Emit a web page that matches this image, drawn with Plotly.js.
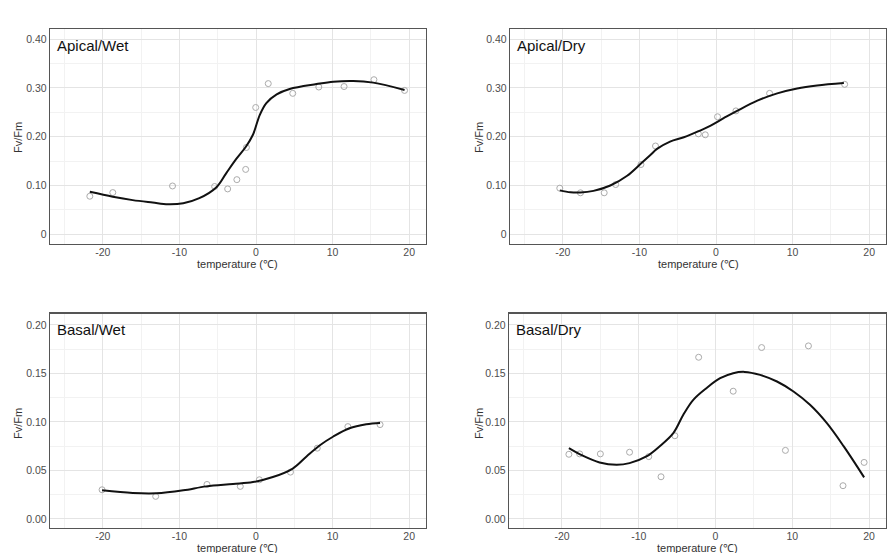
<!DOCTYPE html>
<html>
<head>
<meta charset="utf-8">
<script src="https://cdn.plot.ly/plotly-3.0.1.min.js"></script>
<style>html,body{margin:0;padding:0;background:#fff;}#chart{width:888px;height:553px;}</style>
</head>
<body>
<div id="chart"></div>
<script>
// ---- Data ----
const panelLabels = ["Apical/Wet", "Apical/Dry", "Basal/Wet", "Basal/Dry"];

// Apical/Wet observations
const awX = [-21.7, -18.7, -10.9, -5.4, -3.7, -2.5, -1.35, -1.25, -0.04, 1.6, 4.8, 8.2, 11.5, 15.4, 19.4];
const awY = [0.078, 0.0855, 0.099, 0.098, 0.093, 0.112, 0.133, 0.178, 0.260, 0.309, 0.289, 0.302, 0.303, 0.317, 0.295];
// Apical/Wet smooth curve
const awFitX = [-21.7, -18.7, -16.1, -13.5, -11.5, -9.5, -7.4, -5.2, -3.9, -2.6, -1.3, -0.4, 0.5, 1.35, 2.7, 4.4, 7.9, 10.1, 12.7, 15.3, 19.4];
const awFitY = [0.087, 0.077, 0.070, 0.065, 0.0615, 0.0636, 0.074, 0.096, 0.125, 0.154, 0.180, 0.204, 0.245, 0.269, 0.287, 0.298, 0.308, 0.313, 0.3145, 0.311, 0.296];

// Apical/Dry observations
const adX = [-20.4, -17.7, -14.6, -13.1, -9.8, -7.9, -2.3, -1.4, 0.2, 2.6, 7.0, 16.8];
const adY = [0.0945, 0.085, 0.085, 0.102, 0.143, 0.181, 0.206, 0.204, 0.241, 0.253, 0.289, 0.3075];
const adFitX = [-20.4, -19.0, -17.7, -16.0, -13.8, -11.6, -9.8, -8.6, -7.7, -6.0, -4.2, -2.5, -0.7, 1.0, 2.75, 5.4, 8.0, 10.6, 13.2, 16.7];
const adFitY = [0.090, 0.086, 0.0856, 0.089, 0.100, 0.120, 0.145, 0.162, 0.175, 0.190, 0.199, 0.210, 0.223, 0.238, 0.253, 0.274, 0.289, 0.299, 0.305, 0.310];

// Basal/Wet observations
const bwX = [-20.1, -13.1, -6.4, -2.05, 0.44, 4.5, 8.0, 12.0, 16.2];
const bwY = [0.0301, 0.0233, 0.0356, 0.0336, 0.0404, 0.0483, 0.073, 0.0952, 0.0973];
const bwFitX = [-20.1, -16.1, -13.0, -9.5, -6.5, -3.0, -0.4, 2.2, 4.8, 6.6, 8.3, 10.1, 12.2, 14.4, 16.2];
const bwFitY = [0.0295, 0.0267, 0.0264, 0.0295, 0.0336, 0.036, 0.038, 0.0432, 0.052, 0.0644, 0.0757, 0.085, 0.0935, 0.0976, 0.099];

// Basal/Dry observations
const bdX = [-19.1, -17.7, -15.0, -11.2, -8.7, -7.1, -5.3, -2.2, 2.3, 6.0, 9.1, 12.1, 16.6, 19.35];
const bdY = [0.0667, 0.0671, 0.0671, 0.0688, 0.0643, 0.0435, 0.0858, 0.1667, 0.1317, 0.1767, 0.0707, 0.1784, 0.0343, 0.0583];
const bdFitX = [-19.1, -17.3, -15.1, -12.9, -11.2, -9.0, -7.3, -5.5, -4.2, -2.9, -1.2, 0.6, 2.3, 3.8, 5.8, 8.0, 10.15, 12.3, 14.5, 16.7, 19.35];
const bdFitY = [0.073, 0.0652, 0.0583, 0.0559, 0.0576, 0.0645, 0.0748, 0.0885, 0.1074, 0.1228, 0.1348, 0.1451, 0.1503, 0.1516, 0.1485, 0.1417, 0.1314, 0.1177, 0.0988, 0.0748, 0.0429];

// Tick labels
const xTickVals = [-20, -10, 0, 10, 20];
const xTickText = ["-20", "-10", "0", "10", "20"];
const yTopVals = [0, 0.1, 0.2, 0.3, 0.4];
const yTopText = ["0", "0.10", "0.20", "0.30", "0.40"];
const yBotVals = [0, 0.05, 0.1, 0.15, 0.2];
const yBotText = ["0.00", "0.05", "0.10", "0.15", "0.20"];

const xTitle = "temperature (\u2103)";
const yTitle = "Fv/Fm";

// ---- Build traces ----
const obs = [[awX, awY], [adX, adY], [bwX, bwY], [bdX, bdY]];
const fits = [[awFitX, awFitY], [adFitX, adFitY], [bwFitX, bwFitY], [bdFitX, bdFitY]];
const traces = [];
const axSuffix = ["", "2", "3", "4"];
for (let i = 0; i < 4; i++) {
  traces.push({
    x: obs[i][0], y: obs[i][1], type: "scatter", mode: "markers",
    xaxis: "x" + axSuffix[i], yaxis: "y" + axSuffix[i],
    marker: {symbol: "circle-open", size: 6, color: "#ababab", line: {width: 1, color: "#ababab"}},
    hoverinfo: "skip", showlegend: false
  });
  traces.push({
    x: fits[i][0], y: fits[i][1], type: "scatter", mode: "lines",
    xaxis: "x" + axSuffix[i], yaxis: "y" + axSuffix[i],
    line: {color: "#111111", width: 2, shape: "spline", smoothing: 1},
    hoverinfo: "skip", showlegend: false
  });
}

// ---- Layout ----
const W = 888, H = 553;
const frames = [
  {l: 50, r: 426, t: 29, b: 244, yt: 18, xt: 264, ym: 138},
  {l: 510, r: 886, t: 29, b: 244, yt: 479, xt: 264, ym: 138},
  {l: 50, r: 426, t: 313.5, b: 528, yt: 18, xt: 547.5, ym: 424},
  {l: 509, r: 886, t: 313.5, b: 528, yt: 479, xt: 547.5, ym: 424}
];
const FONT = "Liberation Sans, Arial, sans-serif";
const layout = {
  width: W, height: H,
  margin: {l: 0, r: 0, t: 0, b: 0},
  paper_bgcolor: "#ffffff", plot_bgcolor: "#ffffff",
  font: {family: FONT, color: "#4d4d4d"},
  showlegend: false,
  annotations: []
};
for (let i = 0; i < 4; i++) {
  const f = frames[i];
  const top = i < 2;
  layout["xaxis" + axSuffix[i]] = {
    domain: [f.l / W, f.r / W],
    range: [-26.9, 22.2],
    anchor: "y" + axSuffix[i],
    tickmode: "array", tickvals: xTickVals, ticktext: xTickText,
    tickfont: {size: 10.5, color: "#4d4d4d"},
    ticklabelstandoff: -2,
    ticks: "", showgrid: true, gridcolor: "#e4e4e4", gridwidth: 1,
    minor: {tickmode: "array", tickvals: [-25, -15, -5, 5, 15], showgrid: true, gridcolor: "#f2f2f2", gridwidth: 1},
    zeroline: false,
    showline: true, mirror: true, linecolor: "#555555", linewidth: 1.2
  };
  layout["yaxis" + axSuffix[i]] = {
    domain: [1 - f.b / H, 1 - f.t / H],
    range: top ? [-0.02, 0.421] : [-0.0093, 0.2118],
    anchor: "x" + axSuffix[i],
    tickmode: "array",
    tickvals: top ? yTopVals : yBotVals,
    ticktext: top ? yTopText : yBotText,
    tickfont: {size: 10.5, color: "#4d4d4d"},
    ticks: "", showgrid: true, gridcolor: "#e4e4e4", gridwidth: 1,
    minor: {tickmode: "array", tickvals: top ? [0.05, 0.15, 0.25, 0.35] : [0.025, 0.075, 0.125, 0.175], showgrid: true, gridcolor: "#f2f2f2", gridwidth: 1},
    zeroline: false,
    showline: true, mirror: true, linecolor: "#555555", linewidth: 1.2
  };
  // panel label
  layout.annotations.push({
    text: panelLabels[i],
    xref: "x" + axSuffix[i] + " domain", yref: "y" + axSuffix[i] + " domain",
    x: 0.012, y: 0.925, xanchor: "left", yanchor: "middle",
    showarrow: false, font: {size: 15, color: "#111111", family: FONT}
  });
  // x axis title
  layout.annotations.push({
    text: xTitle, xref: "paper", yref: "paper",
    x: ((f.l + f.r) / 2) / W, y: 1 - f.xt / H, xanchor: "center", yanchor: "middle",
    showarrow: false, font: {size: 11, color: "#333333", family: FONT}
  });
  // y axis title
  layout.annotations.push({
    text: yTitle, xref: "paper", yref: "paper", textangle: -90,
    x: f.yt / W, y: 1 - f.ym / H, xanchor: "center", yanchor: "middle",
    showarrow: false, font: {size: 11, color: "#333333", family: FONT}
  });
}
Plotly.newPlot("chart", traces, layout, {staticPlot: true, displayModeBar: false});
</script>
</body>
</html>
